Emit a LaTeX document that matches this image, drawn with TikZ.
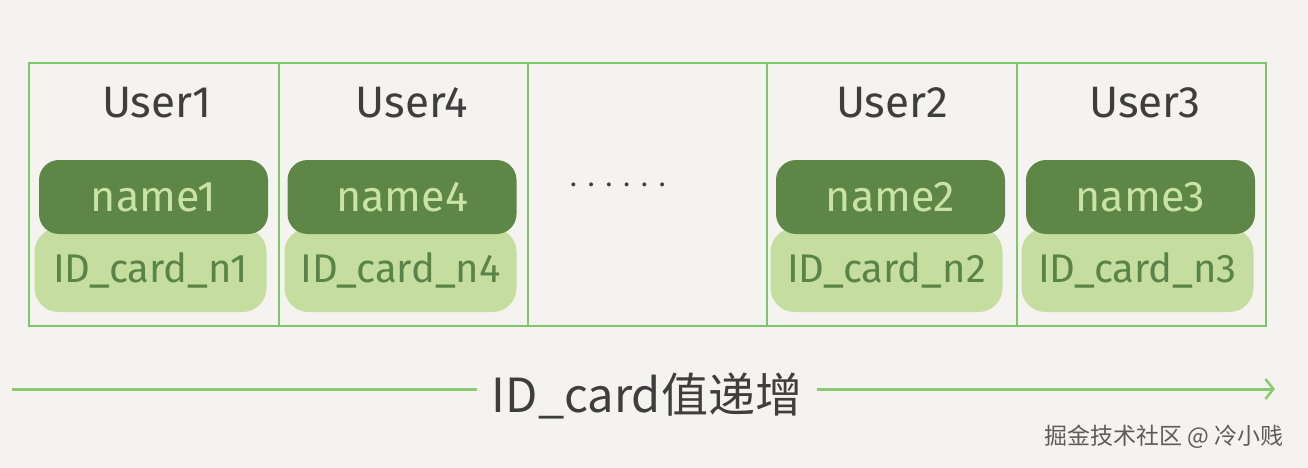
\documentclass[tikz,border=0pt]{standalone}
\usepackage{fontspec}
\setmainfont{Fira Sans}
\newfontfamily\cjkfont{Noto Sans CJK SC}
\usetikzlibrary{arrows.meta}
\definecolor{bg}{HTML}{F4F3EF}
\definecolor{frame}{HTML}{7EC56B}
\definecolor{axisgreen}{HTML}{8ACB72}
\definecolor{darkpill}{HTML}{5E8646}
\definecolor{lightpill}{HTML}{C5DEA0}
\definecolor{darktext}{HTML}{C8E3A5}
\definecolor{lighttext}{HTML}{5A8447}
\definecolor{ink}{HTML}{3E3E3E}
\definecolor{wm}{HTML}{5C5C5C}
\begin{document}
\begin{tikzpicture}[x=1pt,y=1pt,
  cell/.style={draw=frame,line width=2pt,minimum height=263pt,inner sep=0pt,anchor=north west},
  usertxt/.style={text=ink,font=\fontsize{44}{44}\selectfont,inner sep=0pt},
  namepill/.style={fill=darkpill,rounded corners=20pt,minimum width=229pt,minimum height=74pt,text=darktext,font=\fontsize{43}{43}\selectfont,inner sep=0pt},
  idpill/.style={fill=lightpill,rounded corners=24pt,minimum width=232pt,minimum height=84pt,text=lighttext,font=\fontsize{40}{40}\selectfont,inner sep=0pt},
  axisline/.style={draw=axisgreen,line width=3pt},
]
\fill[bg] (0,0) rectangle (1308,-468);
\useasboundingbox (0,0) rectangle (1308,-468);

% cells
\node[cell,minimum width=250pt] (c1) at (28,-62) {};
\node[cell,minimum width=249pt] (c2) at (278,-62) {};
\node[cell,minimum width=239pt] (c3) at (527,-62) {};
\node[cell,minimum width=250pt] (c4) at (766,-62) {};
\node[cell,minimum width=249pt] (c5) at (1016,-62) {};

% user titles
\node[usertxt] (u1) at (157,-103) {User1};
\node[usertxt] (u4) at (412,-103) {User4};
\node[usertxt] (u2) at (892,-103) {User2};
\node[usertxt] (u3) at (1145,-103) {User3};

% ID card pills (behind)
\node[idpill] (i1) at (150.5,-270) {ID\_card\_n1};
\node[idpill] (i4) at (400.5,-270) {ID\_card\_n4};
\node[idpill] (i2) at (886.5,-270) {ID\_card\_n2};
\node[idpill] (i3) at (1137.5,-270) {ID\_card\_n3};

% name pills (front)
\node[namepill] (n1) at (153.5,-197) {name1};
\node[namepill] (n4) at (402,-197) {name4};
\node[namepill] (n2) at (890.5,-197) {name2};
\node[namepill] (n3) at (1140.5,-197) {name3};

% dots
\node[anchor=base west,inner sep=0pt,text=ink,font=\fontsize{28}{28}\selectfont] (dots) at (570,-186) {.\kern11pt.\kern11pt.\kern11pt.\kern11pt.\kern11pt.};

% axis
\node[text=ink,font=\cjkfont\fontsize{47}{47}\selectfont,inner xsep=15pt,inner ysep=0pt] (lbl) at (647,-396) {ID\_card值递增};
\coordinate (as) at (12,-389);
\coordinate (ae) at (1275,-389);
\draw[axisline] (as) -- (as -| lbl.west);
\draw[axisline,-{Straight Barb[length=8pt,width=20pt,line width=2.5pt]}] (lbl.east |- ae) -- (ae);

% watermark
\node[text=wm,font=\cjkfont\fontsize{23}{23}\selectfont,inner sep=0pt] (wmk) at (1164,-437) {掘金技术社区 @ 冷小贱};
\end{tikzpicture}
\end{document}
